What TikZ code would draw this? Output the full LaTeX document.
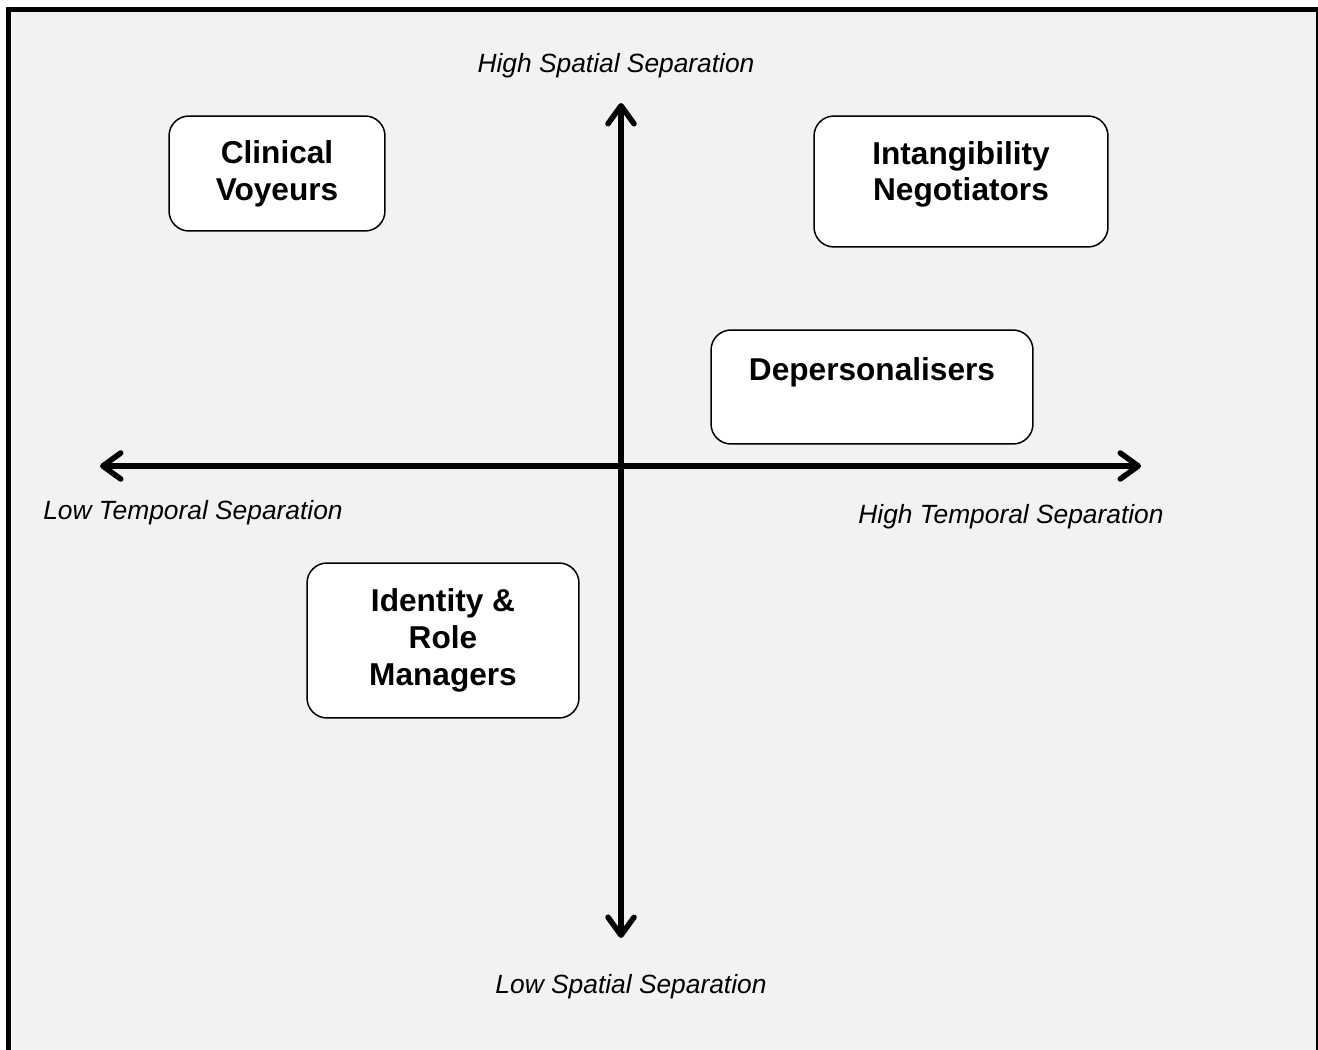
\documentclass[tikz,border=0pt]{standalone}
\usepackage{fontspec}
\setmainfont{Liberation Sans}
\usepackage{tikz}
\usetikzlibrary{arrows.meta}

\definecolor{panelgray}{RGB}{242,242,242}

\tikzset{
   typebox/.style={
      draw=black,
      fill=white,
      line width=0.03cm,
      rounded corners=0.4cm,
      align=center,
      font=\fontsize{18}{21}\selectfont\bfseries
   },
   axislabel/.style={
      font=\fontsize{15}{18}\selectfont\itshape
   },
   axis/.style={
      line width=0.11cm,
      {Straight Barb[length=0.36cm,width=0.52cm,line cap=round,line join=round]}-{Straight Barb[length=0.36cm,width=0.52cm,line cap=round,line join=round]}
   }
}

\begin{document}
\begin{tikzpicture}[x=0.02cm,y=-0.02cm]
   \useasboundingbox (0,0) rectangle (1318,1050);
   \fill[white] (0,0) rectangle (1318,1050);
   
   % panel
   \draw[line width=0.1cm, fill=panelgray] (8.5,9.5) rectangle (1318,1070);
   
   % axes
   \coordinate (west) at (100,466);
   \coordinate (east) at (1141,466);
   \coordinate (north) at (621,103);
   \coordinate (south) at (621,938);
   \draw[axis] (west) -- (east);
   \draw[axis] (south) -- (north);
   
   \node[axislabel] (highspatial) at (616,66) {High Spatial Separation};
   \node[axislabel] (lowspatial) at (631,987) {Low Spatial Separation};
   \node[axislabel] (lowtemporal) at (193,513) {Low Temporal Separation};
   \node[axislabel] (hightemporal) at (1011,517) {High Temporal Separation};
   
   % quadrants
   \node[typebox, minimum width=4.32cm, minimum height=2.3cm]
      (voyeurs) at (277,173.5) {Clinical\\Voyeurs};
   \node[typebox, minimum width=5.88cm, minimum height=2.62cm, text depth=0.42cm]
      (negotiators) at (961,181.5) {Intangibility\\Negotiators};
   \node[typebox, minimum width=6.44cm, minimum height=2.28cm]
      (depersonalisers) at (872,387) {Depersonalisers\\~};
   \node[typebox, minimum width=5.44cm, minimum height=3.1cm]
      (managers) at (443,640.5) {Identity \&\\Role\\Managers};
   
\end{tikzpicture}
\end{document}
